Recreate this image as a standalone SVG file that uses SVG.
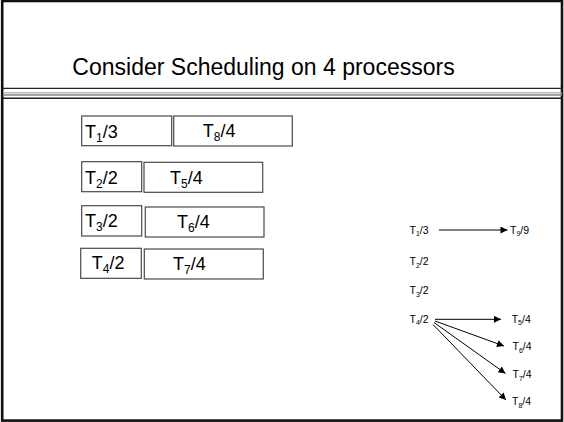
<svg xmlns="http://www.w3.org/2000/svg" width="564" height="422" viewBox="0 0 564 422">
  <style>
    text { font-family: "Liberation Sans", Arial, sans-serif; fill: #000; }
    .title { font-size: 23px; }
    .big { font-size: 18px; }
    .big .sub { font-size: 12px; }
    .small { font-size: 10.5px; }
    .small .sub { font-size: 7px; }
    .box { fill: #fff; stroke: #4a4a4a; stroke-width: 1.2; }
    .conn { stroke: #000; stroke-width: 1; fill: none; marker-end: url(#arrow); }
  </style>
  <defs>
    <marker id="arrow" viewBox="0 0 10 10" refX="10" refY="5" markerWidth="9" markerHeight="7" markerUnits="userSpaceOnUse" orient="auto">
      <path d="M0,0 L10,5 L0,10 z" fill="#000"/>
    </marker>
  </defs>

  <!-- slide frame -->
  <rect x="0" y="0" width="564" height="422" fill="#fff"/>
  <rect x="2.2" y="1" width="559.8" height="419.6" fill="none" stroke="#111" stroke-width="2.6"/>

  <!-- title and rule -->
  <text class="title" x="263.5" y="75" text-anchor="middle">Consider Scheduling on 4 processors</text>
  <g id="title-rule">
    <line x1="3" y1="88.3" x2="562" y2="88.3" stroke="#222" stroke-width="1.2"/>
    <line x1="3" y1="92.8" x2="562" y2="92.8" stroke="#aaa" stroke-width="1.2"/>
    <line x1="3" y1="95" x2="562" y2="95" stroke="#888" stroke-width="1.4"/>
    <line x1="3" y1="98.2" x2="562" y2="98.2" stroke="#222" stroke-width="1.4"/>
  </g>

  <!-- schedule on 4 processors -->
  <g id="p1-t1"><rect class="box" x="81.7" y="116" width="90" height="29.7"/>
    <text class="big" x="85" y="138">T<tspan class="sub" dy="4">1</tspan><tspan dy="-4">/3</tspan></text></g>
  <g id="p1-t8"><rect class="box" x="173.7" y="116" width="118.6" height="30"/>
    <text class="big" x="202.7" y="137">T<tspan class="sub" dy="4">8</tspan><tspan dy="-4">/4</tspan></text></g>

  <g id="p2-t2"><rect class="box" x="81.7" y="161.7" width="60" height="30"/>
    <text class="big" x="85" y="184">T<tspan class="sub" dy="4">2</tspan><tspan dy="-4">/2</tspan></text></g>
  <g id="p2-t5"><rect class="box" x="144" y="162.3" width="118.7" height="30"/>
    <text class="big" x="170" y="184">T<tspan class="sub" dy="4">5</tspan><tspan dy="-4">/4</tspan></text></g>

  <g id="p3-t3"><rect class="box" x="81.7" y="205.7" width="60" height="30.3"/>
    <text class="big" x="85" y="227">T<tspan class="sub" dy="4">3</tspan><tspan dy="-4">/2</tspan></text></g>
  <g id="p3-t6"><rect class="box" x="145.3" y="207" width="118.7" height="30"/>
    <text class="big" x="177" y="228">T<tspan class="sub" dy="4">6</tspan><tspan dy="-4">/4</tspan></text></g>

  <g id="p4-t4"><rect class="box" x="80.7" y="248.3" width="60.6" height="30"/>
    <text class="big" x="91.7" y="269">T<tspan class="sub" dy="4">4</tspan><tspan dy="-4">/2</tspan></text></g>
  <g id="p4-t7"><rect class="box" x="144.3" y="249" width="119" height="30"/>
    <text class="big" x="173" y="270">T<tspan class="sub" dy="4">7</tspan><tspan dy="-4">/4</tspan></text></g>

  <!-- task dependency graph -->
  <g id="n-t1"><text class="small" x="409.5" y="233.5">T<tspan class="sub" dy="2.5">1</tspan><tspan dy="-2.5">/3</tspan></text></g>
  <g id="n-t9"><text class="small" x="510" y="233.5">T<tspan class="sub" dy="2.5">9</tspan><tspan dy="-2.5">/9</tspan></text></g>
  <g id="n-t2"><text class="small" x="409.5" y="265">T<tspan class="sub" dy="2.5">2</tspan><tspan dy="-2.5">/2</tspan></text></g>
  <g id="n-t3"><text class="small" x="409.5" y="294">T<tspan class="sub" dy="2.5">3</tspan><tspan dy="-2.5">/2</tspan></text></g>
  <g id="n-t4"><text class="small" x="409.5" y="322.5">T<tspan class="sub" dy="2.5">4</tspan><tspan dy="-2.5">/2</tspan></text></g>
  <g id="n-t5"><text class="small" x="511.7" y="322.5">T<tspan class="sub" dy="2.5">5</tspan><tspan dy="-2.5">/4</tspan></text></g>
  <g id="n-t6"><text class="small" x="512.5" y="350">T<tspan class="sub" dy="2.5">6</tspan><tspan dy="-2.5">/4</tspan></text></g>
  <g id="n-t7"><text class="small" x="512.5" y="378">T<tspan class="sub" dy="2.5">7</tspan><tspan dy="-2.5">/4</tspan></text></g>
  <g id="n-t8"><text class="small" x="512" y="405">T<tspan class="sub" dy="2.5">8</tspan><tspan dy="-2.5">/4</tspan></text></g>

  <g id="connectors">
    <line class="conn" x1="439" y1="230" x2="507.5" y2="230"/>
    <line class="conn" x1="435" y1="319.3" x2="501" y2="319.3"/>
    <line class="conn" x1="435" y1="321" x2="504" y2="346"/>
    <line class="conn" x1="434" y1="322.5" x2="505.5" y2="373.5"/>
    <line class="conn" x1="433" y1="324.5" x2="506" y2="400"/>
  </g>
</svg>
